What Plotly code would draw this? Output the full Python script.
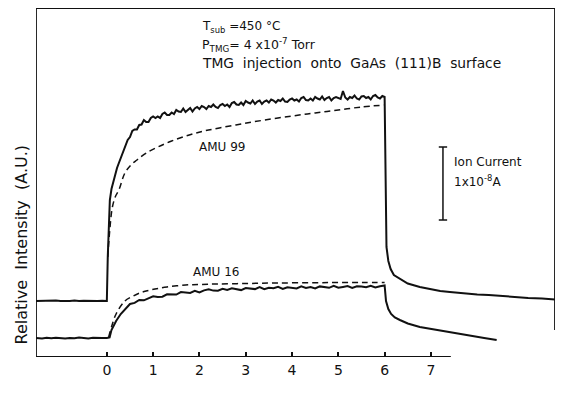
import plotly.graph_objects as go

# ---------------- data (arbitrary intensity units, time in min) ----------------
t99 = [-1.53, -1.4, -1.3, -1.2, -1.1, -1.0, -0.9, -0.8, -0.7, -0.6, -0.5, -0.4, -0.3, -0.2, -0.1, 0.0,
       0.02, 0.04, 0.065, 0.10, 0.14, 0.18, 0.22, 0.26, 0.30, 0.35, 0.40,
       0.45, 0.50, 0.55, 0.60, 0.65, 0.70, 0.75, 0.80, 0.85, 0.90, 0.95, 1.00,
       1.05, 1.10, 1.15, 1.20, 1.25, 1.30, 1.35, 1.40, 1.45, 1.50, 1.55, 1.60,
       1.65, 1.70, 1.75, 1.80, 1.85, 1.90, 1.95, 2.00, 2.05, 2.10, 2.15, 2.20,
       2.25, 2.30, 2.35, 2.40, 2.45, 2.50, 2.55, 2.60, 2.65, 2.70, 2.75, 2.80,
       2.85, 2.90, 2.95, 3.00, 3.05, 3.10, 3.15, 3.20, 3.25, 3.30, 3.35, 3.40,
       3.45, 3.50, 3.55, 3.60, 3.65, 3.70, 3.75, 3.80, 3.85, 3.90, 3.95, 4.00,
       4.05, 4.10, 4.15, 4.20, 4.25, 4.30, 4.35, 4.40, 4.45, 4.50, 4.55, 4.60,
       4.65, 4.70, 4.75, 4.80, 4.85, 4.90, 4.95, 5.00, 5.05, 5.10, 5.15, 5.20,
       5.25, 5.30, 5.35, 5.40, 5.45, 5.50, 5.55, 5.60, 5.65, 5.70, 5.75, 5.80,
       5.85, 5.90, 5.95, 6.00,
       6.02, 6.04, 6.08, 6.13, 6.20, 6.33, 6.50, 6.76, 7.0, 7.2, 7.41, 7.7,
       8.0, 8.25, 8.49, 8.8, 9.1, 9.4, 9.68]
amu99 = [56.0, 56.3, 55.8, 56.2, 56.5, 56.0, 55.7, 56.1, 56.4, 55.9, 56.2, 56.0, 55.6, 56.1, 56.3, 56.0,
         100, 135, 157, 168, 175, 183, 189, 194, 199, 205, 211,
         217, 220, 226, 227.5, 227.5, 232, 232.5, 237, 235, 235, 239, 240.5,
         239, 240.5, 239, 243, 244.5, 242, 242, 244.5, 243, 247, 245.5, 245,
         248.5, 245, 247.5, 249, 245.5, 248.5, 250, 248, 251, 250, 248, 251,
         250, 252.5, 250, 249, 252, 253, 251, 252.5, 250, 254, 255, 252.5,
         252, 254.5, 252, 256, 254.5, 253.5, 256.5, 253, 255.5, 256.5, 253, 255.5,
         256.5, 254.5, 257.5, 256.5, 254.5, 257, 256, 258.5, 255.5, 255, 257.5, 258.5,
         256.5, 257.5, 255.5, 259, 260, 257, 256.5, 258.5, 256.5, 260, 258.5, 257.5,
         260.5, 257, 259, 260, 256.5, 259, 260, 259, 258, 266, 259.5, 257.5,
         260, 259, 261.5, 258.5, 257.5, 260.5, 261, 259, 260, 257.5, 261, 262,
         259.5, 258.5, 261, 260,
         185, 110, 96, 88, 82, 78, 73.5, 70, 67.5, 66, 65, 63.5,
         62.5, 62, 61, 60, 59, 58.5, 57.5]

t99_ref = [0.02, 0.06, 0.12, 0.19, 0.26, 0.39, 0.52, 0.65, 0.85, 1.1, 1.4, 1.78,
           2.1, 2.43, 2.9, 3.41, 4.0, 4.5, 5.0, 5.5, 6.0]
amu99_ref = [100, 125, 150, 161, 167, 184, 192, 197, 204, 210, 216, 222,
             226, 229, 233, 237, 241, 244, 247, 250, 252]

t16 = [-1.53, -1.4, -1.3, -1.2, -1.1, -1.0, -0.9, -0.8, -0.7, -0.6, -0.5, -0.4, -0.3, -0.2, -0.1, 0.0,
       0.06, 0.10, 0.15, 0.20, 0.30, 0.39,
       0.5, 0.6, 0.7, 0.8, 0.9, 1.0, 1.1, 1.2, 1.3, 1.4, 1.5, 1.6, 1.7, 1.8,
       1.9, 2.0, 2.1, 2.2, 2.3, 2.4, 2.5, 2.6, 2.7, 2.8, 2.9, 3.0, 3.1, 3.2,
       3.3, 3.4, 3.5, 3.6, 3.7, 3.8, 3.9, 4.0, 4.1, 4.2, 4.3, 4.4, 4.5, 4.6,
       4.7, 4.8, 4.9, 5.0, 5.1, 5.2, 5.3, 5.4, 5.5, 5.6, 5.7, 5.8, 5.9, 6.0,
       6.03, 6.08, 6.14, 6.22, 6.33, 6.5, 6.76, 7.0, 7.2, 7.41, 7.65, 7.9, 8.15, 8.42]
amu16 = [19.0, 18.6, 19.2, 18.8, 19.3, 18.9, 18.5, 19.1, 18.8, 19.4, 18.9, 18.6, 19.2, 18.8, 19.1, 19.0,
         19.5, 27, 32, 36, 43, 48,
         53, 54.1, 57, 56.7, 58.8, 60.7, 59.9, 60.3, 62.7, 62.9, 62.4, 64.9, 64.7, 64.1,
         66.1, 64.5, 66.6, 67.7, 66.4, 66.2, 68.1, 67, 68.7, 67.9, 66.9, 69, 68.7, 67.9,
         70, 67.8, 69.3, 68.7, 70.1, 68, 69.7, 69.4, 68.5, 70.6, 69.1, 70, 68.5, 70.6,
         70, 69.2, 71.2, 69.3, 70.1, 70.9, 69.1, 70.8, 70.4, 69.7, 71.3, 69.6, 70.8, 71.6,
         56, 48, 43, 39.5, 37, 33.5, 30, 28, 26.5, 24.5, 22.5, 20.5, 19, 17]

t16_ref = [0.04, 0.10, 0.20, 0.39, 0.55, 0.71, 0.85, 1.04, 1.3, 1.7, 2.0, 2.37,
           3.0, 3.67, 4.5, 5.0, 5.5, 6.0]
amu16_ref = [20, 30, 43, 56, 60.5, 64, 66, 68, 70, 72, 72.5, 73,
             73.5, 74, 74.3, 74.5, 74.5, 74.5]

tick_vals = [0, 1, 2, 3, 4, 5, 6, 7]
tick_text = ["0", "1", "2", "3", "4", "5", "6", "7"]

# ---------------- figure ----------------
INK = "#111111"
X0, X1 = -1.53, 9.68
Y0, Y1 = 0, 349
AXIS_END = 7.43

fig = go.Figure()
fig.add_trace(go.Scatter(x=t99, y=amu99, mode="lines",
                         line=dict(color=INK, width=2), hoverinfo="skip"))
fig.add_trace(go.Scatter(x=t99_ref, y=amu99_ref, mode="lines",
                         line=dict(color=INK, width=1.5, dash="6px,4px", shape="spline"),
                         hoverinfo="skip"))
fig.add_trace(go.Scatter(x=t16, y=amu16, mode="lines",
                         line=dict(color=INK, width=2), hoverinfo="skip"))
fig.add_trace(go.Scatter(x=t16_ref, y=amu16_ref, mode="lines",
                         line=dict(color=INK, width=1.5, dash="6px,4px", shape="spline"),
                         hoverinfo="skip"))

lw = 1.8
bar = dict(color=INK, width=1.5)
shapes = [
    dict(type="line", xref="x", yref="y", x0=X0, x1=AXIS_END, y0=0, y1=0, line=dict(color=INK, width=lw)),
    dict(type="line", xref="x", yref="y", x0=X0, x1=X0, y0=0, y1=Y1, line=dict(color=INK, width=lw)),
    dict(type="line", xref="x", yref="y", x0=X0, x1=X1, y0=Y1, y1=Y1, line=dict(color=INK, width=lw)),
    dict(type="line", xref="x", yref="y", x0=X1, x1=X1, y0=Y1, y1=27, line=dict(color=INK, width=lw)),
    # ion-current scale bar
    dict(type="line", xref="x", yref="y", x0=7.26, x1=7.26, y0=137, y1=210, line=bar),
    dict(type="line", xref="x", yref="y", x0=7.17, x1=7.35, y0=210, y1=210, line=bar),
    dict(type="line", xref="x", yref="y", x0=7.17, x1=7.35, y0=137, y1=137, line=bar),
]

FONT = "DejaVu Sans"
def f(size):
    return dict(size=size, family=FONT, color=INK)

ann = [
    dict(x=2.01, y=330, text="T<sub>sub</sub> =450 °C", xanchor="left", showarrow=False, font=f(12)),
    dict(x=2.01, y=312, text="P<sub>TMG</sub>= 4 x10<sup>-7</sup> Torr", xanchor="left", showarrow=False, font=f(12.5)),
    dict(x=2.01, y=294, text="TMG  injection  onto  GaAs  (111)B  surface", xanchor="left",
         showarrow=False, font=f(13.8)),
    dict(x=2.48, y=210, text="AMU 99", showarrow=False, font=f(12)),
    dict(x=2.35, y=85, text="AMU 16", showarrow=False, font=f(12)),
    dict(x=7.45, y=195, text="Ion Current", xanchor="left", showarrow=False, font=f(12)),
    dict(x=7.45, y=176, text="1x10<sup>-8</sup>A", xanchor="left", showarrow=False, font=f(12)),
    dict(x=2.55, y=-30, text="Time  (  min  )", showarrow=False, font=f(16)),
    dict(x=-0.052, xref="paper", y=112, text="Relative  Intensity  (A.U.)", textangle=-90,
         showarrow=False, font=f(16)),
]

fig.update_layout(
    width=561, height=404,
    margin=dict(l=36, r=6, t=8, b=47),
    paper_bgcolor="white", plot_bgcolor="white",
    showlegend=False,
    shapes=shapes, annotations=ann,
    xaxis=dict(range=[X0, X1], showgrid=False, zeroline=False, showline=False,
               tickvals=tick_vals, ticktext=tick_text, ticks="inside", ticklen=5,
               tickwidth=1.5, tickcolor=INK, ticklabelstandoff=3,
               tickfont=dict(size=14, family=FONT, color=INK)),
    yaxis=dict(range=[Y0, Y1], showgrid=False, zeroline=False, showline=False,
               showticklabels=False, ticks=""),
)

fig.write_html("out.html")
